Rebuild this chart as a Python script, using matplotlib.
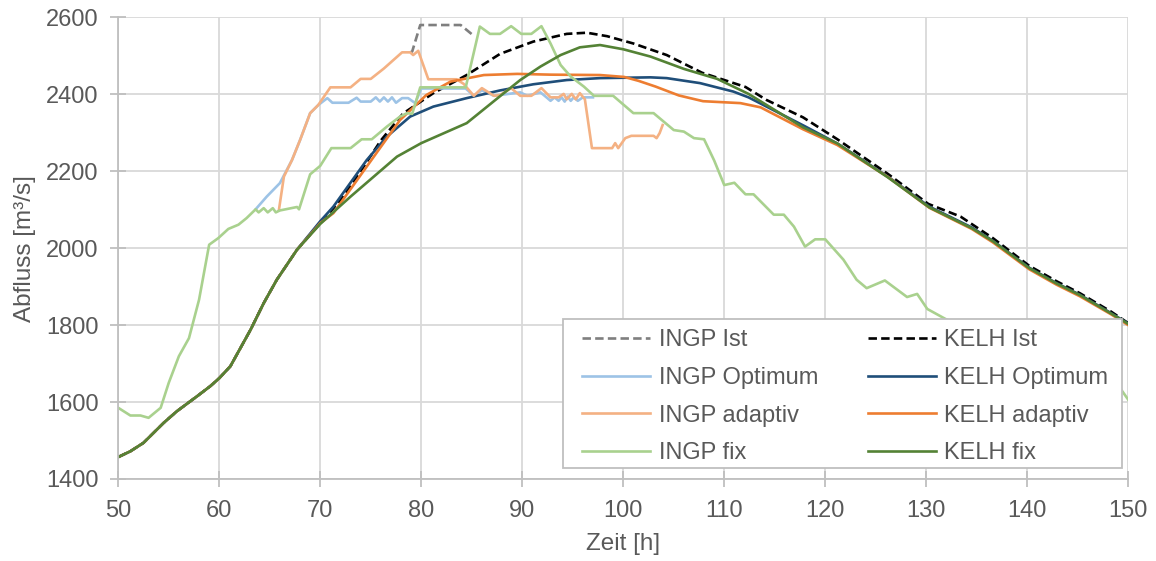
import matplotlib
matplotlib.use("Agg")
import matplotlib.pyplot as plt
from matplotlib.patches import Rectangle

# Zeit [h] / Abfluss [m³/s]
kelh_fix_t = [50, 51.2, 52.5, 54.5, 55.8, 57.8, 59.1, 60, 61.1, 63.1, 64.4, 65.7, 67.7, 70, 73, 77.6, 80,
              84.5, 87.8, 89.8, 91.8, 93.8, 95.7, 97.7, 100, 102.7, 106, 109.3, 112.4, 117.8, 121.2,
              126.2, 130.3, 134.5, 136.6, 140.2, 142.9, 145.2, 148.3, 150]
kelh_fix_q = [1457, 1472, 1494, 1546, 1576, 1615, 1641, 1662, 1693, 1788, 1857, 1918, 1996, 2063, 2134,
              2238, 2273, 2325, 2395, 2437, 2472, 2502, 2522, 2528, 2517, 2498, 2466, 2440, 2401, 2314,
              2272, 2184, 2106, 2052, 2018, 1948, 1908, 1878, 1830, 1803]

kelh_ist_t = [50, 51.2, 52.5, 54.5, 55.8, 57.8, 59.1, 60, 61.1, 63.1, 64.4, 65.7, 67.7, 70, 72, 74, 76,
              78.2, 81.2, 84.5, 87.8, 91.1, 94.4, 96.4, 98.4, 101, 104.3, 107.8, 112.1, 114.2, 117.8,
              121.2, 126.2, 130.2, 133.4, 136.6, 140.2, 142.9, 145.2, 148.3, 150]
kelh_ist_q = [1457, 1472, 1494, 1546, 1576, 1615, 1641, 1662, 1693, 1788, 1857, 1918, 1996, 2065, 2125,
              2200, 2280, 2350, 2403, 2450, 2505, 2537, 2557, 2560, 2551, 2532, 2502, 2456, 2419, 2385,
              2340, 2283, 2193, 2115, 2082, 2026, 1954, 1914, 1883, 1835, 1805]

kelh_opt_t = [50, 51.2, 52.5, 54.5, 55.8, 57.8, 59.1, 60, 61.1, 63.1, 64.4, 65.7, 67.7, 70, 71.3, 74.6,
              76.6, 78.9, 81.2, 84.5, 87.8, 91.1, 94.4, 97.7, 102.7, 104.3, 107.6, 110.9, 112.4, 117.9,
              121.2, 126.2, 130.3, 134.5, 136.6, 140.2, 142.9, 145.2, 148.3, 150]
kelh_opt_q = [1457, 1472, 1494, 1546, 1576, 1615, 1641, 1662, 1693, 1788, 1857, 1918, 1996, 2070, 2108,
              2229, 2290, 2342, 2368, 2390, 2410, 2426, 2437, 2442, 2444, 2442, 2429, 2407, 2392, 2318,
              2272, 2186, 2108, 2054, 2019, 1949, 1909, 1879, 1831, 1804]

kelh_ada_t = [50, 51.2, 52.5, 54.5, 55.8, 57.8, 59.1, 60, 61.1, 63.1, 64.4, 65.7, 67.7, 70, 71.3, 74.6,
              77.9, 80.5, 82.9, 86.2, 89.5, 92.8, 97.7, 100.1, 101.5, 103.2, 105.5, 107.9, 111.6, 113.6,
              117.8, 121.2, 126.2, 130.3, 134.5, 136.6, 140.2, 142.9, 145.2, 148.3, 150]
kelh_ada_q = [1457, 1472, 1494, 1546, 1576, 1615, 1641, 1662, 1693, 1788, 1857, 1918, 1996, 2065, 2091,
              2212, 2333, 2398, 2433, 2450, 2453, 2451, 2450, 2445, 2435, 2420, 2397, 2382, 2377, 2366,
              2309, 2268, 2185, 2105, 2050, 2015, 1945, 1905, 1875, 1828, 1800]

ingp_fix_t = [50, 51.2, 52.2, 53, 54.2, 55, 56, 57, 58, 59, 59.9, 60.9, 61.9, 62.7, 63.6, 63.9, 64.4,
              64.8, 65.3, 65.6, 66, 67.7, 67.9, 69, 70, 71.1, 73, 74.1, 75.1, 76.6, 77.9, 78.6, 79.1,
              79.9, 84.4, 85.8, 86.8, 87.8, 88.9, 89.9, 90.9, 91.9, 92.8, 93.8, 94.8, 96.1, 97.1, 99,
              101, 103, 105, 106, 107, 108, 109, 110, 111, 112.1, 112.9, 114.9, 115.9, 116.9, 118, 119,
              120, 121.8, 123.1, 124.1, 125.9, 128.1, 129.1, 130.1, 131.9, 134, 136, 138, 140, 142,
              144, 146, 148, 149.2, 150]
ingp_fix_q = [1585, 1565, 1565, 1559, 1585, 1650, 1719, 1766, 1866, 2009, 2026, 2050, 2061, 2078, 2101,
              2093, 2104, 2093, 2104, 2093, 2098, 2107, 2101, 2192, 2214, 2260, 2260, 2283, 2283, 2316,
              2342, 2351, 2349, 2418, 2418, 2576, 2557, 2557, 2577, 2557, 2557, 2577, 2532, 2476, 2446,
              2420, 2396, 2396, 2351, 2351, 2307, 2303, 2286, 2283, 2228, 2164, 2170, 2140, 2140, 2087,
              2087, 2056, 2004, 2023, 2023, 1970, 1918, 1896, 1916, 1873, 1881, 1842, 1816, 1790, 1765,
              1745, 1725, 1705, 1690, 1672, 1652, 1636, 1606]

ingp_ada_t = [65.9, 66.4, 67.2, 68, 69, 69.8, 71, 73, 74, 75, 76.3, 78.1, 78.9, 79.2, 79.7, 80.7, 83.5,
              84.2, 85.2, 86, 87.2, 87.8, 88.9, 89.8, 90.9, 91.9, 92.8, 93.6, 94.1, 94.4, 94.9, 95.3,
              95.7, 96.2, 96.9, 98.9, 99.2, 99.5, 100.2, 100.8, 103, 103.3, 103.6, 103.9]
ingp_ada_q = [2098, 2186, 2229, 2281, 2351, 2372, 2418, 2418, 2440, 2440, 2467, 2509, 2509, 2502, 2513,
              2439, 2439, 2427, 2396, 2416, 2396, 2398, 2416, 2396, 2396, 2416, 2392, 2392, 2401, 2387,
              2401, 2387, 2403, 2387, 2260, 2260, 2273, 2260, 2286, 2292, 2292, 2286, 2299, 2320]

ingp_opt_t = [63.6, 64.7, 66, 67.2, 68, 69, 69.8, 70.7, 71.2, 72.8, 73.6, 74, 75, 75.5, 75.9, 76.3, 76.7,
              77.1, 77.5, 78.1, 78.7, 79.4, 80, 84.4, 85.2, 86, 87.2, 89.8, 90.5, 91.8, 92.4, 92.8,
              93.2, 93.6, 93.9, 94.2, 94.5, 94.8, 95.1, 95.5, 96, 97]
ingp_opt_q = [2101, 2134, 2169, 2229, 2281, 2351, 2372, 2390, 2378, 2378, 2391, 2381, 2381, 2392, 2381,
              2392, 2381, 2392, 2378, 2390, 2390, 2377, 2415, 2415, 2396, 2410, 2396, 2405, 2396, 2405,
              2392, 2383, 2392, 2383, 2392, 2381, 2394, 2383, 2392, 2383, 2392, 2392]

ingp_ist_t = [78.9, 79.1, 79.9, 83.9, 85.2]
ingp_ist_q = [2509, 2511, 2580, 2580, 2552]

txt = "#595959"
grid = "#d9d9d9"
axc = "#bfbfbf"
plt.rcParams["font.family"] = ["Liberation Sans", "DejaVu Sans"]

fig = plt.figure(figsize=(11.56, 5.61), dpi=100)
ax = fig.add_axes([0.1023, 0.1462, 0.8737, 0.8229])

lw = 1.9
h_ingp_ist, = ax.plot(ingp_ist_t, ingp_ist_q, color="#7f7f7f", lw=lw, dashes=(3.2, 1.6), label="INGP Ist")
h_kelh_ist, = ax.plot(kelh_ist_t, kelh_ist_q, color="#000000", lw=lw, dashes=(3.2, 1.6), label="KELH Ist")
h_ingp_opt, = ax.plot(ingp_opt_t, ingp_opt_q, color="#9dc3e6", lw=lw, label="INGP Optimum")
h_kelh_opt, = ax.plot(kelh_opt_t, kelh_opt_q, color="#1f4e79", lw=lw, label="KELH Optimum")
h_ingp_ada, = ax.plot(ingp_ada_t, ingp_ada_q, color="#f4b183", lw=lw, label="INGP adaptiv")
h_kelh_ada, = ax.plot(kelh_ada_t, kelh_ada_q, color="#ed7d31", lw=lw, label="KELH adaptiv")
h_ingp_fix, = ax.plot(ingp_fix_t, ingp_fix_q, color="#a9d18e", lw=lw, label="INGP fix")
h_kelh_fix, = ax.plot(kelh_fix_t, kelh_fix_q, color="#548235", lw=lw, label="KELH fix")

ax.set_xlim(50, 150)
ax.set_ylim(1400, 2600)
ax.set_xticks(range(50, 151, 10))
ax.set_yticks(range(1400, 2601, 200))
ax.grid(True, color=grid, lw=1.3)
ax.set_axisbelow(True)
for s in ["top", "right"]:
    ax.spines[s].set_visible(False)
for s in ["left", "bottom"]:
    ax.spines[s].set_color(axc)
    ax.spines[s].set_linewidth(1.3)
ax.tick_params(axis="both", direction="inout", length=12, width=1.3, color=axc,
               labelcolor=txt, labelsize=17)
ax.tick_params(axis="y", pad=8)
ax.tick_params(axis="x", pad=9)
ax.set_xlabel("Zeit [h]", fontsize=17.5, color=txt, labelpad=8)
ax.set_ylabel("Abfluss [m³/s]", fontsize=17.5, color=txt, labelpad=7)

# Legendenrahmen wie im Original (links mehr Rand als rechts)
ax.add_patch(Rectangle((0.440, 0.024), 0.554, 0.322, transform=ax.transAxes,
                       facecolor="white", edgecolor=axc, lw=1.3, zorder=5))

handles = [h_ingp_ist, h_ingp_opt, h_ingp_ada, h_ingp_fix, h_kelh_ist, h_kelh_opt, h_kelh_ada, h_kelh_fix]
leg = ax.legend(handles=handles, ncol=2, loc="upper left", bbox_to_anchor=(0.459, 0.324),
                fontsize=17, frameon=False, handlelength=2.9, handletextpad=0.35,
                columnspacing=2.1, labelspacing=0.66, borderpad=0, borderaxespad=0)
leg.set_zorder(6)
for t in leg.get_texts():
    t.set_color(txt)

fig.savefig("out.png", dpi=100)
